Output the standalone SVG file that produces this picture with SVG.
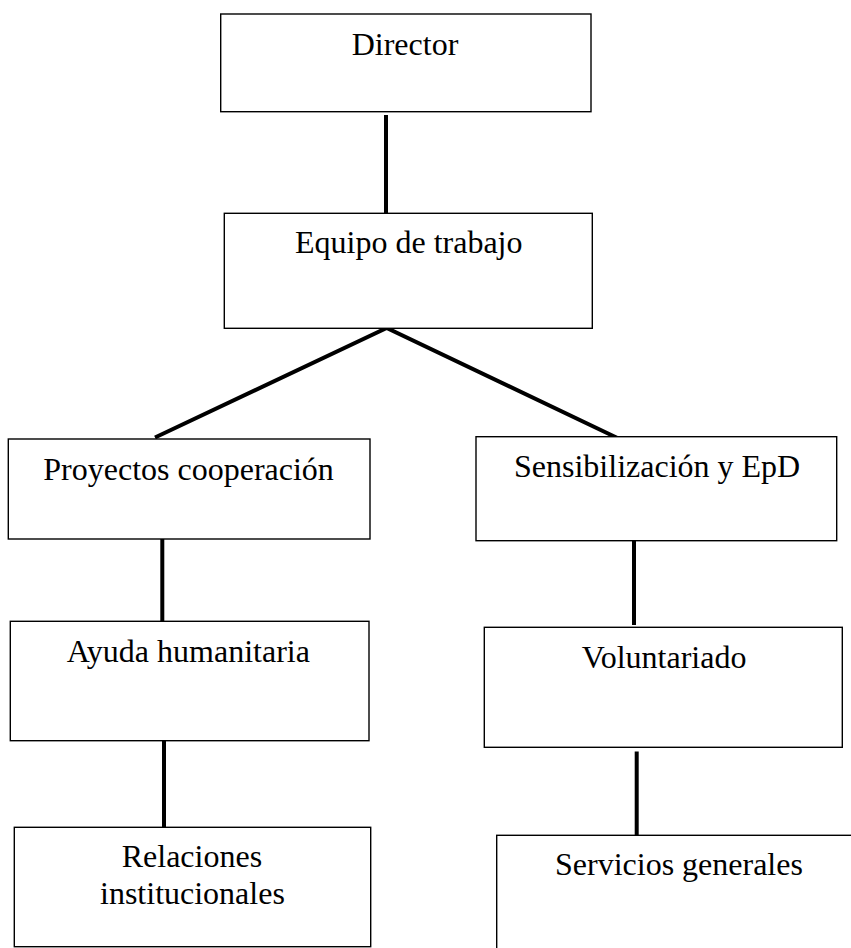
<svg xmlns="http://www.w3.org/2000/svg" width="851" height="948" viewBox="0 0 851 948">
<style>
.box{fill:#fff;stroke:#000;stroke-width:1.4}
.lbl{font-family:"Liberation Serif","Times New Roman",serif;font-size:32px;fill:#000}
.con{stroke:#000;stroke-width:4;fill:none}
</style>
<rect width="851" height="948" fill="#fff"/>
<g id="connectors">
<line class="con" x1="386" y1="115" x2="386" y2="213"/>
<polyline class="con" points="155,437.5 386.7,328 618.5,438.5"/>
<line class="con" x1="162.3" y1="539" x2="162.3" y2="623"/>
<line class="con" x1="164" y1="740.5" x2="164" y2="828"/>
<line class="con" x1="634" y1="537.5" x2="634" y2="625"/>
<line class="con" x1="636.7" y1="751.5" x2="636.7" y2="835.5"/>
</g>
<g id="director">
<rect class="box" x="220.7" y="14" width="370.3" height="97.7"/>
<text class="lbl" x="351.7" y="55">Director</text>
</g>
<g id="equipo">
<rect class="box" x="224.3" y="213.3" width="368" height="115"/>
<text class="lbl" x="295" y="253.3">Equipo de trabajo</text>
</g>
<g id="proyectos">
<rect class="box" x="8.3" y="439" width="361.7" height="100"/>
<text class="lbl" x="43.3" y="480">Proyectos cooperación</text>
</g>
<g id="sensibilizacion">
<rect class="box" x="476" y="436.7" width="360.7" height="104"/>
<text class="lbl" x="514" y="477.3">Sensibilización y EpD</text>
</g>
<g id="ayuda">
<rect class="box" x="10.3" y="621.3" width="358.7" height="119.4"/>
<text class="lbl" x="66.7" y="661.7">Ayuda humanitaria</text>
</g>
<g id="voluntariado">
<rect class="box" x="484.3" y="627.3" width="358" height="120"/>
<text class="lbl" x="581.7" y="668.3">Voluntariado</text>
</g>
<g id="relaciones">
<rect class="box" x="14.3" y="827.3" width="356.4" height="119.4"/>
<text class="lbl" x="121.7" y="866.7">Relaciones</text>
<text class="lbl" x="100" y="904">institucionales</text>
</g>
<g id="servicios">
<rect class="box" x="496.7" y="835.3" width="370" height="130"/>
<text class="lbl" x="555" y="875">Servicios generales</text>
</g>
</svg>
